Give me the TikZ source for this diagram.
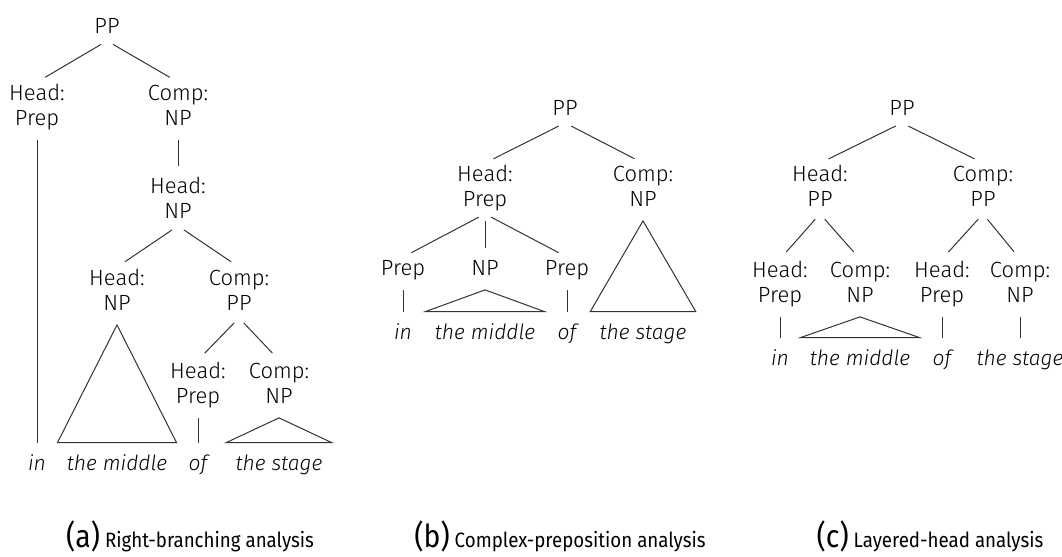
\documentclass[tikz,border=0pt]{standalone}
\usepackage{fontspec}
\setmainfont{Fira Sans Light}[ItalicFont={Fira Sans Light Italic}]
\newfontfamily\capfont{Fira Sans}[FakeStretch=0.9]
\usepackage{tikz}
\usetikzlibrary{positioning,calc}

\newcommand{\twoline}[2]{\strut #1\\\strut #2}

\begin{document}
\begin{tikzpicture}[
    x=0.5pt, y=-0.5pt,
    % labels sit on the baseline of their last line
    cat/.style={anchor=base, inner sep=0pt, align=center,
      font=\fontsize{11}{12.5}\selectfont},
    word/.style={cat, font=\fontsize{10.5}{12.5}\selectfont\itshape},
    % branches stop a little short of the labels
    br/.style={draw=black!80, line width=0.5pt, shorten <=3.5pt, shorten >=4.75pt},
    tri/.style={draw=black!80, line width=0.5pt},
    capt/.style={anchor=base, inner sep=0pt, font=\capfont\fontsize{10.4}{12}\selectfont},
  ]
  \useasboundingbox (0,0) rectangle (1062,557);

  % (a) right-branching
  \node[cat] (aPP) at (107,33) {\strut PP};
  \node[cat] (aHd) at (37,125) {\twoline{Head:}{Prep}};
  \node[cat] (aCp) at (178,125) {\twoline{Comp:}{NP}};
  \node[cat] (aHN) at (178,218) {\twoline{Head:}{NP}};
  \node[cat] (aHN2) at (117,310) {\twoline{Head:}{NP}};
  \node[cat] (aCP) at (239,310) {\twoline{Comp:}{PP}};
  \node[cat] (aHP) at (198,403) {\twoline{Head:}{Prep}};
  \node[cat] (aCN) at (279,403) {\twoline{Comp:}{NP}};
  \node[word] (aIn) at (37,470) {\strut in};
  \node[word] (aMid) at (117,470) {\strut the middle};
  \node[word] (aOf) at (198,470) {\strut of};
  \node[word] (aStage) at (279,470) {\strut the stage};

  \draw[br] (aPP.south) -- (aHd.north);
  \draw[br] (aPP.south) -- (aCp.north);
  \draw[br] (aHd.south) -- (aIn.north);
  \draw[br] (aCp.south) -- (aHN.north);
  \draw[br] (aHN.south) -- (aHN2.north);
  \draw[br] (aHN.south) -- (aCP.north);
  \draw[br] (aCP.south) -- (aHP.north);
  \draw[br] (aCP.south) -- (aCN.north);
  \draw[br] (aHP.south) -- (aOf.north);
  \draw[tri] ([yshift=-3.5pt]aHN2.south) -- ([shift={(-4.5pt,4.75pt)}]aMid.north west)
    -- ([shift={(4.5pt,4.75pt)}]aMid.north east) -- cycle;
  \draw[tri] ([yshift=-3.5pt]aCN.south) -- ([shift={(-4.5pt,4.75pt)}]aStage.north west)
    -- ([shift={(4.5pt,4.75pt)}]aStage.north east) -- cycle;

  % (b) complex preposition
  \node[cat] (bPP) at (565,115) {\strut PP};
  \node[cat] (bHd) at (485,206) {\twoline{Head:}{Prep}};
  \node[cat] (bCp) at (643,206) {\twoline{Comp:}{NP}};
  \node[cat] (bP1) at (403,275) {\strut Prep};
  \node[cat] (bNP) at (485,275) {\strut NP};
  \node[cat] (bP2) at (567,275) {\strut Prep};
  \node[word] (bIn) at (403,339) {\strut in};
  \node[word] (bMid) at (485,339) {\strut the middle};
  \node[word] (bOf) at (567,339) {\strut of};
  \node[word] (bStage) at (643,339) {\strut the stage};

  \draw[br] (bPP.south) -- (bHd.north);
  \draw[br] (bPP.south) -- (bCp.north);
  \draw[br] (bHd.south) -- (bP1.north);
  \draw[br] (bHd.south) -- (bNP.north);
  \draw[br] (bHd.south) -- (bP2.north);
  \draw[br] (bP1.south) -- (bIn.north);
  \draw[br] (bP2.south) -- (bOf.north);
  \draw[tri] ([yshift=-3.5pt]bNP.south) -- ([shift={(-4.5pt,4.75pt)}]bMid.north west)
    -- ([shift={(4.5pt,4.75pt)}]bMid.north east) -- cycle;
  \draw[tri] ([yshift=-3.5pt]bCp.south) -- ([shift={(-4.5pt,4.75pt)}]bStage.north west)
    -- ([shift={(4.5pt,4.75pt)}]bStage.north east) -- cycle;

  % (c) layered head
  \node[cat] (cPP) at (902,115) {\strut PP};
  \node[cat] (cHd) at (820,206) {\twoline{Head:}{PP}};
  \node[cat] (cCp) at (983,206) {\twoline{Comp:}{PP}};
  \node[cat] (cHP1) at (780,302) {\twoline{Head:}{Prep}};
  \node[cat] (cCN1) at (860,302) {\twoline{Comp:}{NP}};
  \node[cat] (cHP2) at (942,302) {\twoline{Head:}{Prep}};
  \node[cat] (cCN2) at (1020,302) {\twoline{Comp:}{NP}};
  \node[word] (cIn) at (780,365) {\strut in};
  \node[word] (cMid) at (860,365) {\strut the middle};
  \node[word] (cOf) at (942,365) {\strut of};
  \node[word] (cStage) at (1020,365) {\strut the stage};

  \draw[br] (cPP.south) -- (cHd.north);
  \draw[br] (cPP.south) -- (cCp.north);
  \draw[br] (cHd.south) -- (cHP1.north);
  \draw[br] (cHd.south) -- (cCN1.north);
  \draw[br] (cCp.south) -- (cHP2.north);
  \draw[br] (cCp.south) -- (cCN2.north);
  \draw[br] (cHP1.south) -- (cIn.north);
  \draw[br] (cHP2.south) -- (cOf.north);
  \draw[br] (cCN2.south) -- (cStage.north);
  \draw[tri] ([yshift=-3.5pt]cCN1.south) -- ([shift={(-4.5pt,4.75pt)}]cMid.north west)
    -- ([shift={(4.5pt,4.75pt)}]cMid.north east) -- cycle;

  % captions
  \node[capt] (capA) at (190,547) {{\fontsize{15.8}{16}\selectfont(a)} Right-branching analysis};
  \node[capt] (capB) at (560,547) {{\fontsize{15.8}{16}\selectfont(b)} Complex-preposition analysis};
  \node[capt] (capC) at (930,547) {{\fontsize{15.8}{16}\selectfont(c)} Layered-head analysis};
\end{tikzpicture}
\end{document}
